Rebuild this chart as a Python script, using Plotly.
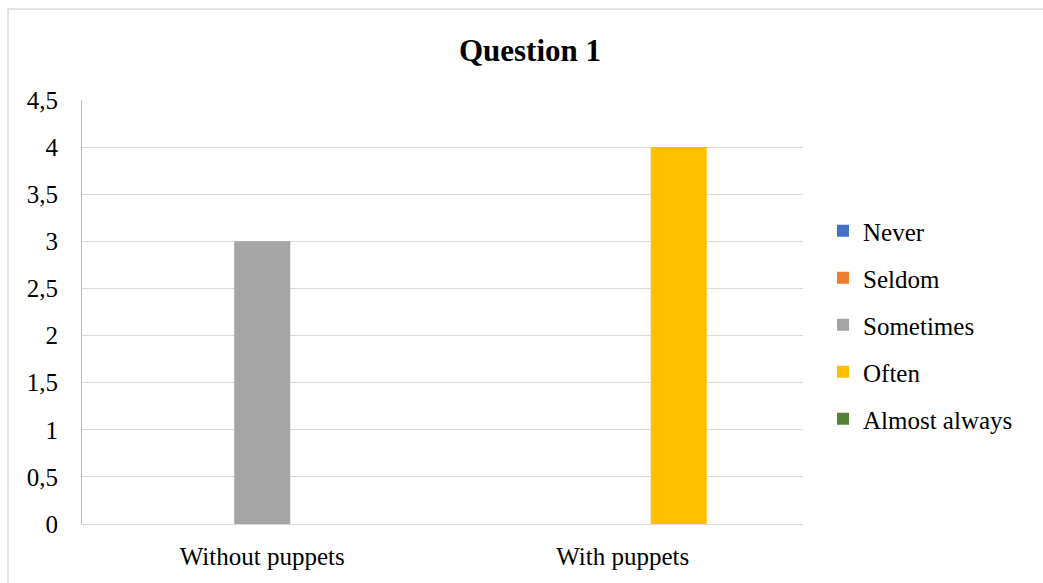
import plotly.graph_objects as go

categories = ["Without puppets", "With puppets"]
series_names = ["Never", "Seldom", "Sometimes", "Often", "Almost always"]
never = [0, 0]
seldom = [0, 0]
sometimes = [3, 0]
often = [0, 4]
almost_always = [0, 0]
y_ticks = [0, 0.5, 1, 1.5, 2, 2.5, 3, 3.5, 4, 4.5]

series_values = [never, seldom, sometimes, often, almost_always]
colors = ["#4472C4", "#ED7D31", "#A5A5A5", "#FFC000", "#548235"]

W, H = 1043, 583
L, R, T, B = 82, 240, 100, 59
plot_w = W - L - R
plot_h = H - T - B

fig = go.Figure()
for i, (name, vals) in enumerate(zip(series_names, series_values)):
    fig.add_trace(go.Bar(
        x=categories, y=vals, name=name,
        marker=dict(color=colors[i], line=dict(width=0)),
        legendgroup=name,
    ))

font_family = "Liberation Serif, Times New Roman, serif"

fig.update_layout(
    width=W, height=H,
    margin=dict(l=L, r=R, t=T, b=B, autoexpand=False),
    paper_bgcolor="white", plot_bgcolor="white",
    barmode="group", bargap=0.223, bargroupgap=0,
    separators=", ",
    font=dict(family=font_family, size=25, color="#000000"),
    title=dict(text="<b>Question 1</b>", x=530 / W, xref="container", xanchor="center",
               y=1 - 50 / H, yref="container", yanchor="middle",
               font=dict(family=font_family, size=31, color="#000000")),
    legend=dict(x=(823 - L) / plot_w, xanchor="left", y=(524 - 325) / plot_h, yanchor="middle",
                font=dict(family=font_family, size=25, color="#000000"),
                tracegroupgap=11.5, bgcolor="rgba(0,0,0,0)"),
    showlegend=True,
)

fig.update_xaxes(showgrid=False, showline=True, linecolor="#d9d9d9", linewidth=1,
                 ticks="", ticklabelstandoff=10, zeroline=False,
                 tickfont=dict(family=font_family, size=25, color="#000000"))
fig.update_yaxes(range=[0, 4.5], tickvals=y_ticks, showgrid=True, gridcolor="#d9d9d9",
                 gridwidth=1, zeroline=False, showline=True, linecolor="#bfbfbf",
                 linewidth=1, ticks="", ticklabelstandoff=18,
                 tickfont=dict(family=font_family, size=25, color="#000000"))

# outer chart border
fig.add_shape(type="rect", xref="paper", yref="paper",
              x0=(8 - L) / plot_w, x1=(W + 2 - L) / plot_w,
              y0=(H - B - (H + 2)) / plot_h, y1=(H - B - 9) / plot_h,
              line=dict(color="#d9d9d9", width=1.5), fillcolor="rgba(0,0,0,0)",
              layer="below")

fig.write_html("out.html")
